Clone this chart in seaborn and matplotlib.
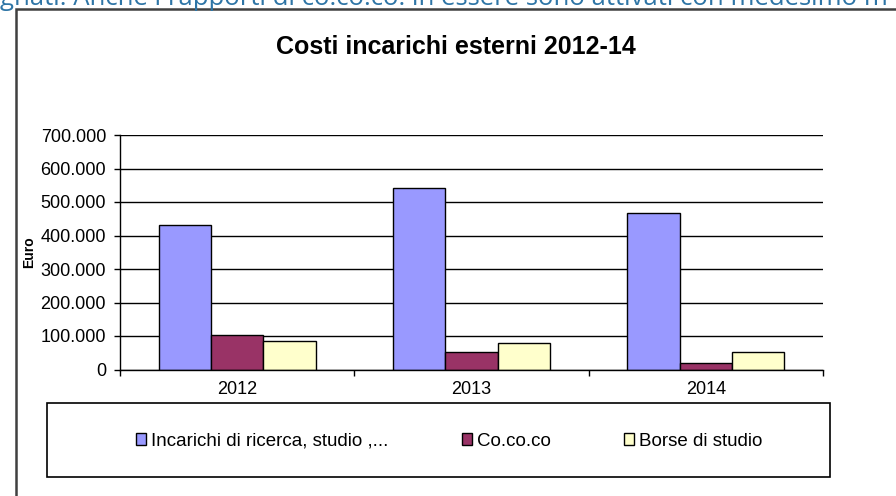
import pandas as pd
import matplotlib
matplotlib.use("Agg")
import matplotlib.pyplot as plt
import seaborn as sns
from matplotlib.patches import Rectangle
from matplotlib.ticker import FuncFormatter, FixedLocator

sns.set_theme(style="white")
plt.rcParams['font.family'] = ['Liberation Sans', 'DejaVu Sans']
plt.rcParams['text.color'] = 'black'

anni = ["2012", "2013", "2014"]
voci = ["Incarichi di ricerca, studio ,...", "Co.co.co", "Borse di studio"]
incarichi = [430000, 542000, 467000]
cococo = [103000, 51000, 20000]
borse = [85000, 78000, 52000]
colori = ["#9999FF", "#993366", "#FFFFCC"]

df = pd.DataFrame({
    "anno": anni * 3,
    "voce": [voci[0]] * 3 + [voci[1]] * 3 + [voci[2]] * 3,
    "valore": incarichi + cococo + borse,
})

W, H = 896, 496
fig = plt.figure(figsize=(W / 100, H / 100), dpi=100)
fig.patch.set_facecolor("white")

# testo tagliato in alto (pagina del documento)
fig.text(0.0, 1 - 5 / H, "gnati. Anche i rapporti di co.co.co. in essere sono attivati con medesimo m",
         color="#2E75A6", fontsize=18.5, va="baseline", ha="left", family=["Open Sans", "DejaVu Sans"])

# cornice del grafico
fig.add_artist(Rectangle((16 / W, -0.1), 1.2, 1.1 - 9 / H, transform=fig.transFigure,
                         fill=False, edgecolor="#404040", linewidth=1.8))

ax = fig.add_axes([120 / W, 1 - 369.5 / H, (823 - 120) / W, (369.5 - 135) / H])
sns.barplot(data=df, x="anno", y="valore", hue="voce", palette=colori, width=0.67,
            edgecolor="black", linewidth=1, saturation=1, ax=ax)

handles, labels = ax.get_legend_handles_labels()
ax.get_legend().remove()

ax.set_xlim(-0.5, 2.5)
ax.set_ylim(0, 700000)
ax.set_yticks(range(0, 700001, 100000))
ax.yaxis.set_major_formatter(FuncFormatter(lambda v, p: f"{int(v):,}".replace(",", ".")))
ax.yaxis.grid(True, color="black", linewidth=1)
ax.set_axisbelow(True)
ax.set_xlabel("")
ax.set_ylabel("")
for s in ["top", "right"]:
    ax.spines[s].set_visible(False)
for s in ["left", "bottom"]:
    ax.spines[s].set_color("black")
    ax.spines[s].set_linewidth(1)
ax.tick_params(axis="y", which="major", left=True, length=4, width=1, color="black",
               pad=6, labelsize=13, labelcolor="black")
ax.tick_params(axis="x", which="major", bottom=False, length=0, pad=8, labelsize=13,
               labelcolor="black")
ax.xaxis.set_minor_locator(FixedLocator([-0.5, 0.5, 1.5, 2.5]))
ax.tick_params(axis="x", which="minor", bottom=True, length=4, width=1, color="black")

fig.text(29 / W, 1 - 252 / H, "Euro", rotation=90, fontsize=10, fontweight="bold",
         ha="center", va="center")
fig.text(456 / W, 1 - 47 / H, "Costi incarichi esterni 2012-14", fontsize=18,
         fontweight="bold", ha="center", va="center")

# riquadro legenda
fig.add_artist(Rectangle((47 / W, 1 - 477 / H), (830 - 47) / W, (477 - 403) / H,
                         transform=fig.transFigure, fill=False, edgecolor="black", linewidth=1.2))
fig.legend(handles, labels, loc="center", bbox_to_anchor=(449 / W, 1 - 441 / H), ncol=3,
           frameon=False, fontsize=13.5, handlelength=0.55, handleheight=0.55, handletextpad=0.25,
           columnspacing=3.9, labelcolor="black")

fig.savefig("out.png", dpi=100)
